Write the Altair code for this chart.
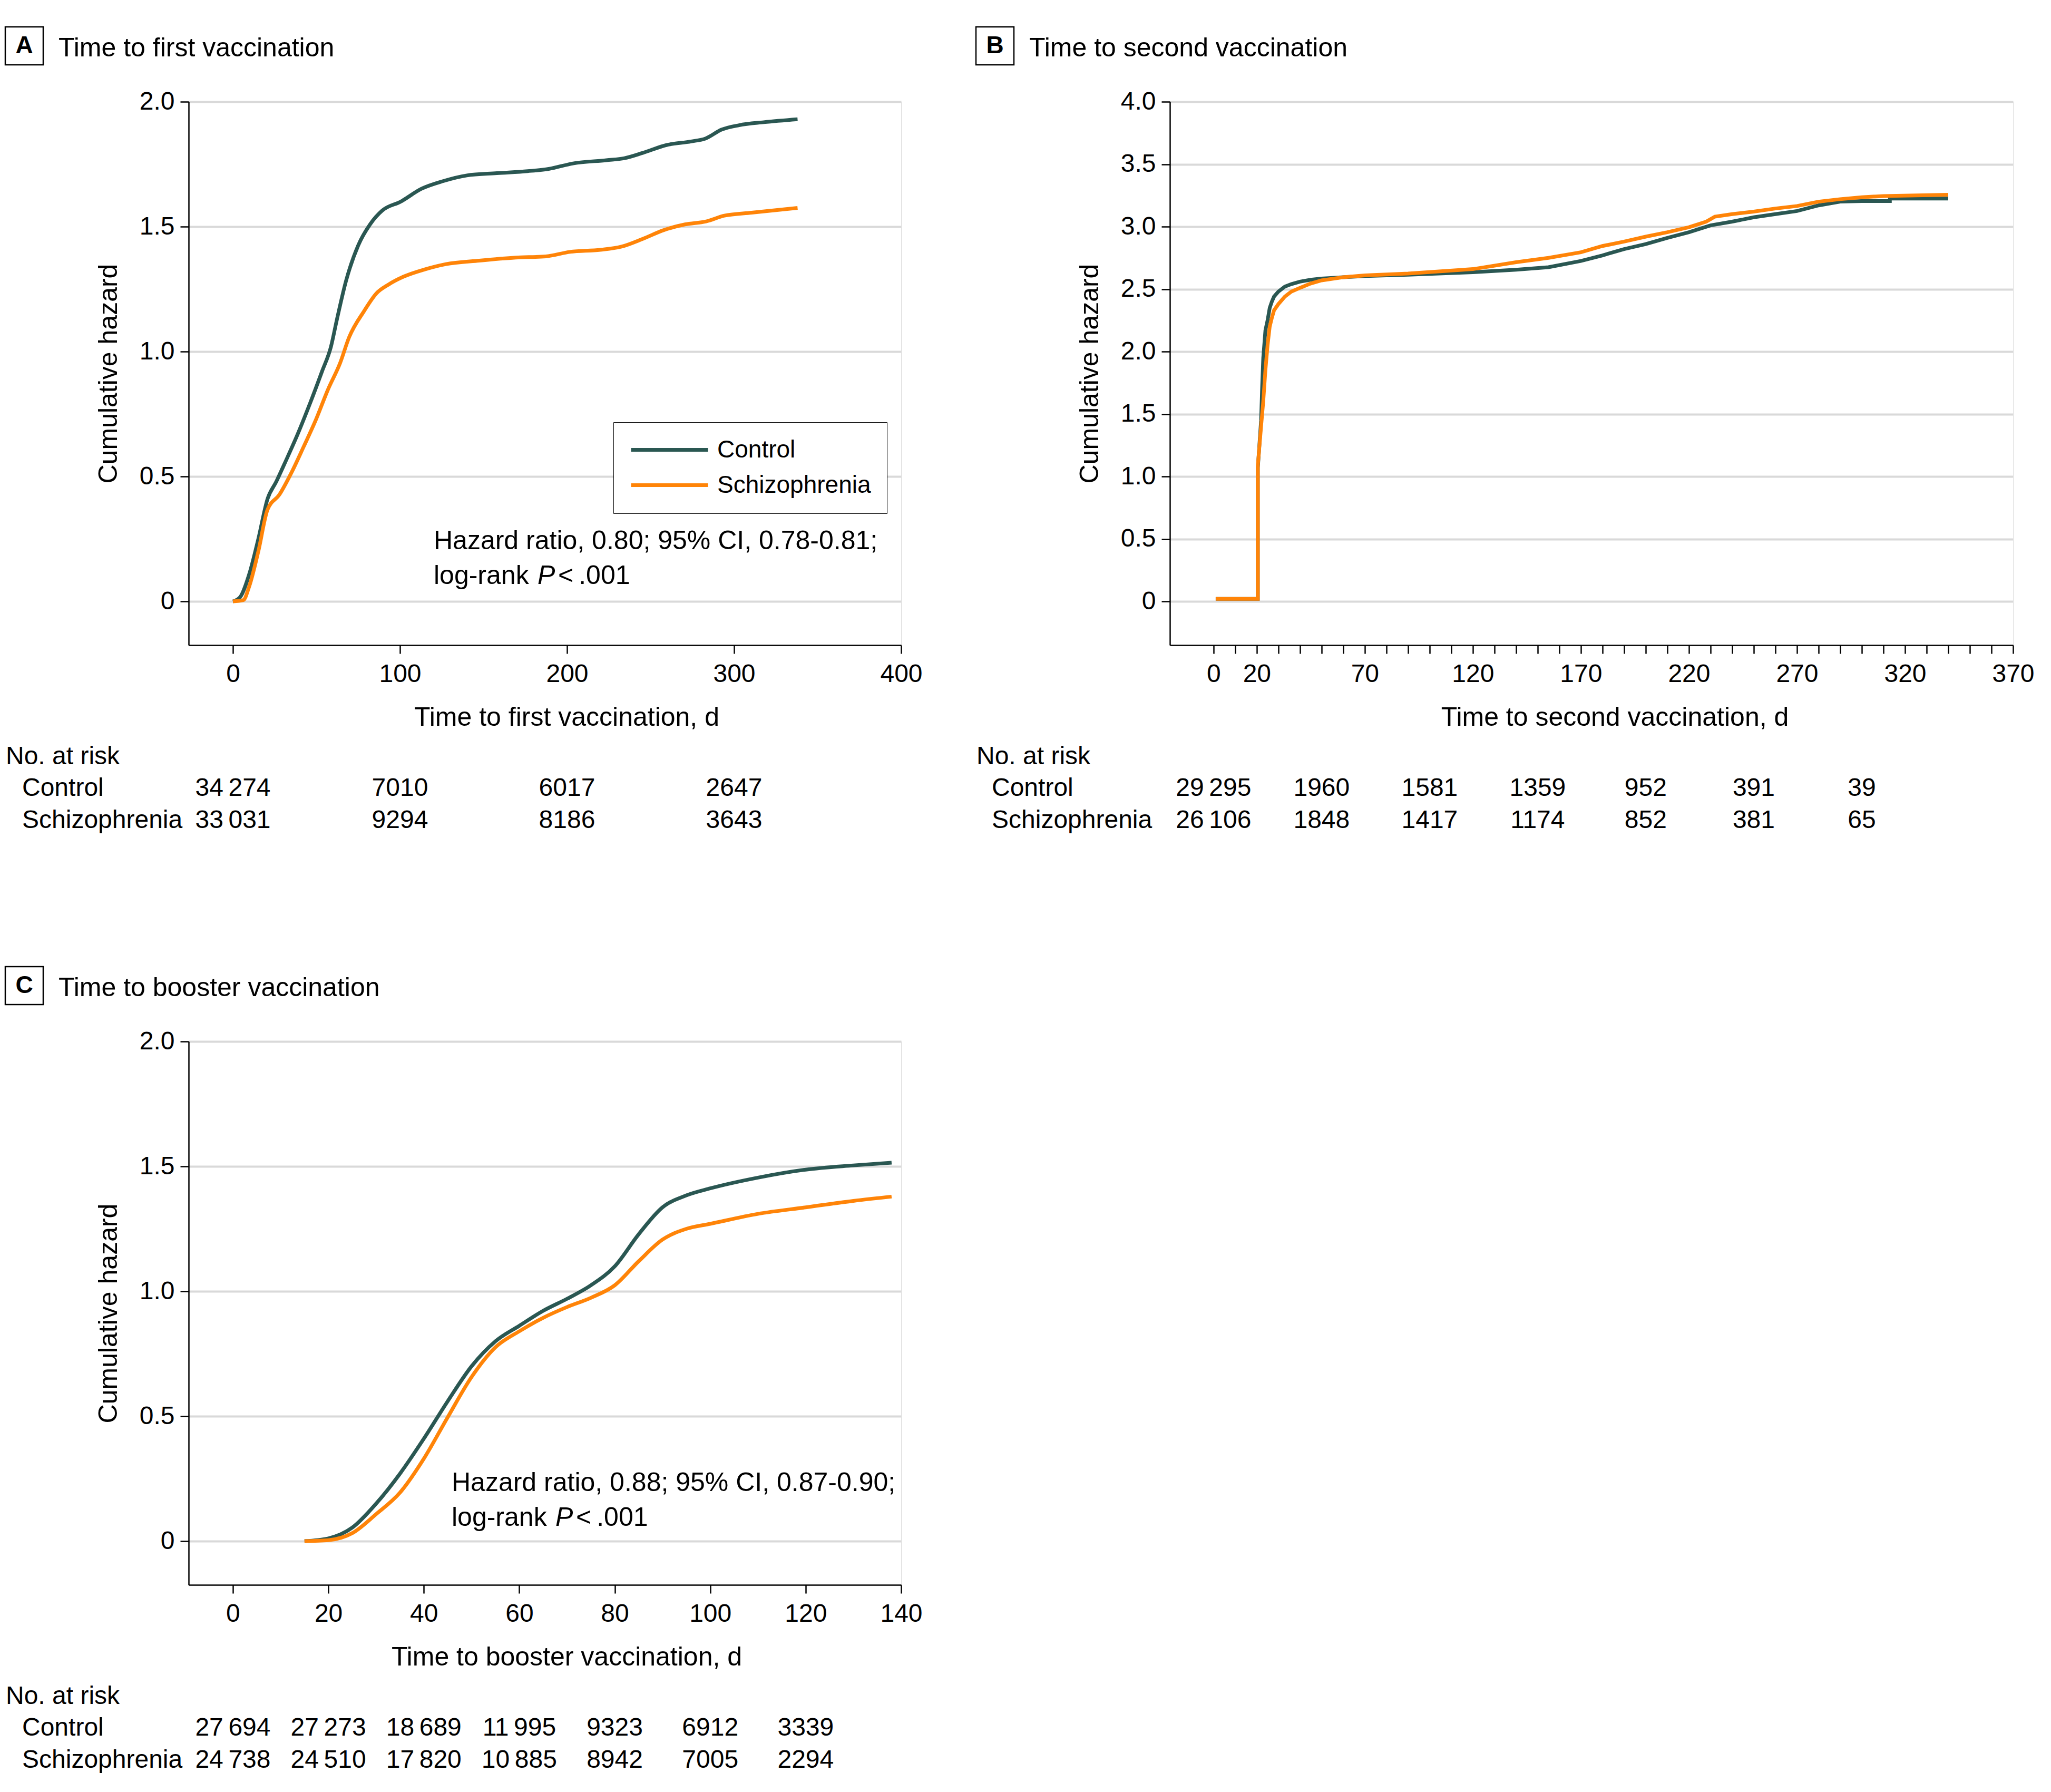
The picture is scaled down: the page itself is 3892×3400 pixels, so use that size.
import altair as alt
import pandas as pd

CONTROL = "#2a5752"
SCHIZO = "#ff8408"
FONT = "Liberation Sans"
GROUPS = ["Control", "Schizophrenia"]

# ---------------- Panel A: time to first vaccination ----------------
a_ctrl_t = [0, 4.3, 9.8, 15.2, 20.7, 26, 31.5, 38.8, 46, 53.3, 58.7, 62.3, 67.8, 75, 82.2, 89.5,
            100.4, 113, 125.7, 140, 158, 176.4, 189, 203.6, 223.6, 234.4, 245.3, 259.8, 274.3,
            283, 292.4, 303, 317.8, 338]
a_ctrl_h = [0, 0.017, 0.11, 0.25, 0.41, 0.48, 0.56, 0.67, 0.79, 0.92, 1.02, 1.13, 1.285, 1.425,
            1.51, 1.565, 1.6, 1.652, 1.682, 1.705, 1.714, 1.722, 1.731, 1.753, 1.766, 1.774,
            1.795, 1.827, 1.841, 1.853, 1.888, 1.906, 1.918, 1.93]
a_sch_t = [0, 6.2, 9.8, 15.2, 20.7, 27.9, 35.1, 42.4, 49.6, 56.9, 64.1, 69.6, 78.6, 85.9, 93.1,
           102.2, 114.9, 127.5, 147.5, 169.2, 187.3, 201.8, 219.9, 232.6, 245.3, 257.9, 270.6,
           283.3, 294.2, 310.5, 338]
a_sch_h = [0, 0.005, 0.061, 0.2, 0.367, 0.428, 0.516, 0.62, 0.726, 0.848, 0.953, 1.058, 1.163,
           1.233, 1.268, 1.3, 1.329, 1.35, 1.364, 1.376, 1.381, 1.399, 1.407, 1.42, 1.451, 1.486,
           1.509, 1.521, 1.544, 1.556, 1.575]
a_risk_t = [0, 100, 200, 300]
a_risk_ctrl = ["34\u2009274", "7010", "6017", "2647"]
a_risk_sch = ["33\u2009031", "9294", "8186", "3643"]

# ---------------- Panel B: time to second vaccination ----------------
b_ctrl_t = [1, 20.5, 20.5, 22, 22.5, 23, 24, 25, 26, 27, 28, 30, 33, 36, 40, 45, 50, 60, 70, 90,
            120, 140, 155, 170, 180, 190, 200, 210, 220, 230, 240, 250, 260, 270, 280, 290, 300,
            313, 313, 340]
b_ctrl_h = [0.02, 0.02, 1.07, 1.45, 1.72, 1.95, 2.17, 2.25, 2.35, 2.4, 2.44, 2.48, 2.52, 2.54,
            2.56, 2.575, 2.585, 2.595, 2.605, 2.615, 2.635, 2.655, 2.675, 2.725, 2.77, 2.82,
            2.86, 2.91, 2.955, 3.01, 3.04, 3.075, 3.1, 3.125, 3.17, 3.2, 3.205, 3.205, 3.225, 3.225]
b_sch_t = [1, 20.5, 20.5, 22, 23, 24, 25, 26, 27, 28, 30, 33, 36, 40, 45, 50, 60, 70, 90, 120,
           140, 155, 170, 180, 190, 200, 210, 220, 228, 232, 240, 250, 260, 270, 280, 290, 300,
           310, 340]
b_sch_h = [0.02, 0.02, 1.09, 1.4, 1.6, 1.85, 2.05, 2.2, 2.27, 2.33, 2.38, 2.44, 2.48, 2.51, 2.545,
           2.57, 2.595, 2.61, 2.625, 2.66, 2.715, 2.75, 2.795, 2.845, 2.88, 2.92, 2.955, 2.995,
           3.04, 3.08, 3.1, 3.12, 3.145, 3.165, 3.2, 3.22, 3.235, 3.245, 3.255]
b_risk_t = [0, 50, 100, 150, 200, 250, 300]
b_risk_ctrl = ["29\u2009295", "1960", "1581", "1359", "952", "391", "39"]
b_risk_sch = ["26\u2009106", "1848", "1417", "1174", "852", "381", "65"]
b_tick_values = list(range(0, 371, 10))
b_tick_labels = [0, 20, 70, 120, 170, 220, 270, 320, 370]

# ---------------- Panel C: time to booster vaccination ----------------
c_t = [15, 20, 25, 30, 35, 40, 45, 50, 55, 60, 65, 70, 75, 80, 85, 90, 95, 100, 110, 120, 130, 138]
c_ctrl_h = [0, 0.011, 0.054, 0.15, 0.27, 0.41, 0.56, 0.70, 0.80, 0.862, 0.922, 0.97, 1.024, 1.1,
            1.228, 1.336, 1.384, 1.412, 1.455, 1.487, 1.504, 1.515]
c_sch_h = [0, 0.004, 0.032, 0.108, 0.194, 0.33, 0.496, 0.657, 0.776, 0.84, 0.894, 0.937, 0.974,
           1.024, 1.12, 1.207, 1.25, 1.27, 1.31, 1.336, 1.362, 1.379]
c_risk_t = [0, 20, 40, 60, 80, 100, 120]
c_risk_ctrl = ["27\u2009694", "27\u2009273", "18\u2009689", "11\u2009995", "9323", "6912", "3339"]
c_risk_sch = ["24\u2009738", "24\u2009510", "17\u2009820", "10\u2009885", "8942", "7005", "2294"]

W_AC, W_B, H = 1352, 1600, 1031
LINE_W = 7


def curves(ct, ch, st, sh):
    rows = []
    for i, (t, h) in enumerate(zip(ct, ch)):
        rows.append({"t": t, "h": h, "group": "Control", "idx": i})
    for i, (t, h) in enumerate(zip(st, sh)):
        rows.append({"t": t, "h": h, "group": "Schizophrenia", "idx": i})
    return pd.DataFrame(rows)


def x_enc(domain, values, title, title_x, label_expr=None):
    kw = dict(values=values, title=title, grid=False, tickSize=16, tickWidth=2.5,
              tickColor="black", domainColor="black", domainWidth=2.5, labelFontSize=48,
              labelFont=FONT, labelColor="black", labelPadding=15, labelFlush=False,
              labelOverlap=False, titleFontSize=50, titleFont=FONT, titleFontWeight="normal",
              titleColor="black", titleX=title_x, titleY=152, titleAlign="center",
              titleBaseline="alphabetic")
    if label_expr:
        kw["labelExpr"] = label_expr
    return alt.X("t:Q", scale=alt.Scale(domain=domain, nice=False, zero=False),
                 axis=alt.Axis(**kw))


def y_enc(domain, values):
    return alt.Y("h:Q", scale=alt.Scale(domain=domain, nice=False, zero=False),
                 axis=alt.Axis(values=values, title="Cumulative hazard", grid=True,
                               gridColor="#d9d9d9", gridWidth=4, tickSize=16, tickWidth=2.5,
                               tickColor="black", domainColor="black", domainWidth=2.5,
                               labelFontSize=48, labelFont=FONT, labelColor="black",
                               labelPadding=11, labelFlush=False,
                               labelExpr="datum.value == 0 ? '0' : format(datum.value, '.1f')",
                               titleFontSize=50, titleFont=FONT, titleFontWeight="normal",
                               titleColor="black", titleAngle=270, titleX=-152, titleY=H / 2,
                               titleAlign="center", titleBaseline="middle"))


def color_enc(legend):
    return alt.Color("group:N", scale=alt.Scale(domain=GROUPS, range=[CONTROL, SCHIZO]),
                     legend=legend)


one = pd.DataFrame({"v": [0]})


def const_text(text, x, y, size=48, align="left", baseline="alphabetic", weight="normal",
               style="normal"):
    return alt.Chart(one).mark_text(text=text, fontSize=size, font=FONT, align=align,
                                    baseline=baseline, fontWeight=weight, fontStyle=style,
                                    color="black").encode(x=alt.value(x), y=alt.value(y))


def panel(letter, title, box_left, df, xe, ye, legend, interp, risk_t, risk_c, risk_s,
          lab_left, hr_text, hr_x, hr_y):
    layers = []
    layers.append(alt.Chart(df).mark_line(strokeWidth=LINE_W, interpolate=interp).encode(
        x=xe, y=ye, color=color_enc(legend), order="idx:Q"))
    # panel header
    layers.append(alt.Chart(one).mark_rect(filled=False, stroke="black", strokeWidth=2.5).encode(
        x=alt.value(box_left), x2=alt.value(box_left + 72), y=alt.value(-142), y2=alt.value(-70)))
    layers.append(const_text(letter, box_left + 36, -106, size=46, align="center",
                             baseline="middle", weight="bold"))
    layers.append(const_text(title, box_left + 101, -86, size=50))
    # numbers at risk
    layers.append(const_text("No. at risk", box_left + 1, 1257))
    layers.append(const_text("Control", lab_left, 1317))
    layers.append(const_text("Schizophrenia", lab_left, 1378))
    for vals, yy in ((risk_c, 1317), (risk_s, 1378)):
        rdf = pd.DataFrame({"t": risk_t, "n": vals})
        layers.append(alt.Chart(rdf).mark_text(fontSize=48, font=FONT, align="center",
                                               baseline="alphabetic", color="black").encode(
            x=xe, y=alt.value(yy), text="n:N"))
    # hazard ratio annotation
    if hr_text:
        layers.append(const_text(hr_text, hr_x, hr_y, size=50))
        layers.append(const_text("log-rank", hr_x, hr_y + 66, size=50))
        layers.append(const_text("P", hr_x + 197, hr_y + 66, size=50, style="italic"))
        layers.append(const_text("<\u2009.001", hr_x + 236, hr_y + 66, size=50))
    return alt.layer(*layers)


legend_a = alt.Legend(orient="none", legendX=806, legendY=608, title=None, symbolType="stroke",
                      symbolSize=146 * 146, symbolStrokeWidth=LINE_W, clipHeight=45,
                      rowPadding=20, labelOffset=14, padding=30, strokeColor="black",
                      fillColor="white", labelFontSize=46, labelFont=FONT, labelColor="black",
                      labelLimit=0)

A = panel("A", "Time to first vaccination", -348,
          curves(a_ctrl_t, a_ctrl_h, a_sch_t, a_sch_h),
          x_enc([-26.5, 400], [0, 100, 200, 300, 400], "Time to first vaccination, d", 717),
          y_enc([-0.175, 2.0], [0, 0.5, 1.0, 1.5, 2.0]),
          legend_a, "monotone", a_risk_t, a_risk_ctrl, a_risk_sch, -316,
          "Hazard ratio, 0.80; 95% CI, 0.78-0.81;", 465, 849).properties(width=W_AC, height=H)

b_expr = "indexof(" + str(b_tick_labels) + ", datum.value) >= 0 ? datum.label : ''"
B = panel("B", "Time to second vaccination", -368,
          curves(b_ctrl_t, b_ctrl_h, b_sch_t, b_sch_h),
          x_enc([-20.2, 370], b_tick_values, "Time to second vaccination, d", 844, b_expr),
          y_enc([-0.35, 4.0], [0, 0.5, 1.0, 1.5, 2.0, 2.5, 3.0, 3.5, 4.0]),
          None, "linear", b_risk_t, b_risk_ctrl, b_risk_sch, -338,
          None, 0, 0).properties(width=W_B, height=H)

C = panel("C", "Time to booster vaccination", -348,
          curves(c_t, c_ctrl_h, c_t, c_sch_h),
          x_enc([-9.27, 140], [0, 20, 40, 60, 80, 100, 120, 140], "Time to booster vaccination, d", 717),
          y_enc([-0.175, 2.0], [0, 0.5, 1.0, 1.5, 2.0]),
          None, "monotone", c_risk_t, c_risk_ctrl, c_risk_sch, -316,
          "Hazard ratio, 0.88; 95% CI, 0.87-0.90;", 499, 853).properties(width=W_AC, height=H)

chart = alt.concat(A, B, C, columns=2, spacing={"row": 752, "column": 510}, bounds="flush",
                   align="each").resolve_scale(color="independent").properties(
    padding={"left": 0, "top": 41, "right": 10, "bottom": 10}
).configure_view(stroke=None).configure(font=FONT)

chart.save("out.html", embed_options={"renderer": "svg", "actions": False})
